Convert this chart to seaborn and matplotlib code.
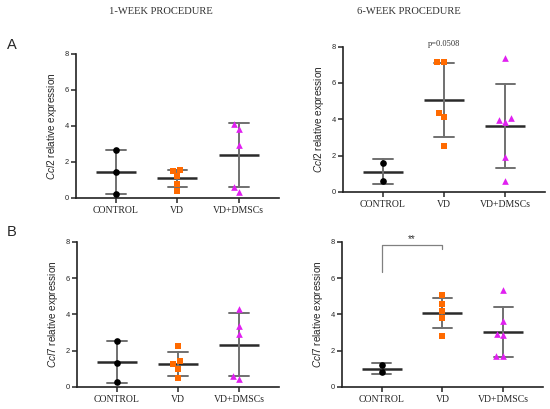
import pandas as pd
import seaborn as sns
import matplotlib.pyplot as plt

# groups and read-off values (relative expression)
groups = ['CONTROL', 'VD', 'VD+DMSCs']

ccl2_1wk_control = [2.64, 1.44, 0.22]
ccl2_1wk_vd = [1.55, 1.48, 1.20, 0.78, 0.41]
ccl2_1wk_dmsc = [4.10, 3.84, 2.96, 0.61, 0.33]

ccl2_6wk_control = [1.59, 0.62]
ccl2_6wk_vd = [7.16, 7.16, 4.36, 4.14, 2.51]
ccl2_6wk_dmsc = [7.40, 4.05, 3.96, 3.86, 1.94, 0.62]

ccl7_1wk_control = [2.54, 1.34, 0.26]
ccl7_1wk_vd = [2.28, 1.42, 1.25, 0.97, 0.50]
ccl7_1wk_dmsc = [4.32, 3.35, 2.90, 0.59, 0.42]

ccl7_6wk_control = [1.21, 0.81]
ccl7_6wk_vd = [5.04, 4.56, 4.17, 3.79, 2.81]
ccl7_6wk_dmsc = [5.33, 3.64, 2.94, 2.85, 1.69, 1.69]

sns.set_style('ticks')
plt.rcParams['font.family'] = ['Liberation Sans', 'DejaVu Sans']
plt.rcParams['mathtext.fontset'] = 'custom'
plt.rcParams['mathtext.it'] = 'Liberation Sans:italic'
plt.rcParams['mathtext.rm'] = 'Liberation Sans'

colors = {'CONTROL': 'black', 'VD': '#ff6a00', 'VD+DMSCs': '#e020f0'}
markers = {'CONTROL': 'o', 'VD': 's', 'VD+DMSCs': '^'}


def make_df(ctrl, vd, dmsc):
    rows = [(g, v) for g, vals in zip(groups, [ctrl, vd, dmsc]) for v in vals]
    return pd.DataFrame(rows, columns=['group', 'value'])


def draw_panel(ax, df, gene):
    # mean +/- SD
    sns.pointplot(data=df, x='group', y='value', order=groups, ax=ax,
                  errorbar='sd', capsize=0.32, linestyle='none', marker='_',
                  markersize=29, markeredgewidth=1.8, color='#2a2a2a',
                  err_kws={'color': '#707070', 'linewidth': 1.4})
    for g in groups:
        sub = df[df['group'] == g]
        sns.swarmplot(data=sub, x='group', y='value', order=groups, ax=ax,
                      color=colors[g], marker=markers[g], size=4.8,
                      linewidth=0, zorder=5)
    ax.set_ylim(0, 8)
    ax.set_xlim(-0.65, 2.65)
    ax.set_yticks([0, 2, 4, 6, 8])
    ax.set_xlabel('')
    ax.set_ylabel(r'$\it{%s}$ relative expression' % gene, fontsize=7.2, labelpad=4)
    ax.tick_params(axis='y', labelsize=5.4, length=3.5, width=1.1, pad=1.5)
    ax.tick_params(axis='x', labelsize=7, length=3.5, width=1.1, pad=2.5)
    for lab in ax.get_xticklabels():
        lab.set_fontfamily('Liberation Serif')
    sns.despine(ax=ax)
    for s in ['left', 'bottom']:
        ax.spines[s].set_linewidth(1.2)
        ax.spines[s].set_color('#222222')


fig = plt.figure(figsize=(5.5, 4.09), dpi=100)
ax_a1 = fig.add_axes([0.138, 0.516, 0.369, 0.352])
ax_a2 = fig.add_axes([0.624, 0.531, 0.367, 0.355])
ax_b1 = fig.add_axes([0.140, 0.054, 0.367, 0.355])
ax_b2 = fig.add_axes([0.622, 0.054, 0.365, 0.355])

draw_panel(ax_a1, make_df(ccl2_1wk_control, ccl2_1wk_vd, ccl2_1wk_dmsc), 'Ccl2')
draw_panel(ax_a2, make_df(ccl2_6wk_control, ccl2_6wk_vd, ccl2_6wk_dmsc), 'Ccl2')
draw_panel(ax_b1, make_df(ccl7_1wk_control, ccl7_1wk_vd, ccl7_1wk_dmsc), 'Ccl7')
draw_panel(ax_b2, make_df(ccl7_6wk_control, ccl7_6wk_vd, ccl7_6wk_dmsc), 'Ccl7')

# annotations
ax_a2.text(1, 7.9, 'p=0.0508', ha='center', va='bottom', fontsize=6,
           family='Liberation Serif', color='#333333')
ax_b2.plot([0, 0, 1, 1], [6.35, 7.8, 7.8, 7.6], color='#808080', lw=0.9,
           clip_on=False)
ax_b2.text(0.5, 7.85, '**', ha='center', va='bottom', fontsize=7, color='#333333')

fig.text(0.293, 0.973, '1-WEEK PROCEDURE', ha='center', va='center',
         fontsize=7.6, family='Liberation Serif', color='#333333')
fig.text(0.744, 0.973, '6-WEEK PROCEDURE', ha='center', va='center',
         fontsize=7.6, family='Liberation Serif', color='#333333')
fig.text(0.012, 0.89, 'A', fontsize=10.5, va='center')
fig.text(0.012, 0.433, 'B', fontsize=10.5, va='center')

fig.savefig('out.png', dpi=100)
